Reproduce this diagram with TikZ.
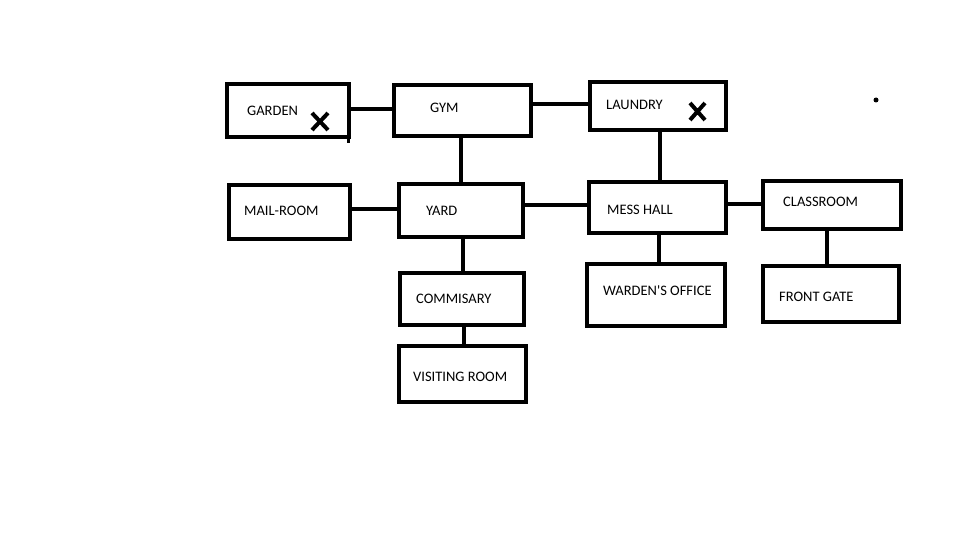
\documentclass[tikz,border=0pt]{standalone}
\usepackage{fontspec}
\setmainfont{Carlito}
\begin{document}
\begin{tikzpicture}[x=1pt,y=-1pt,
  room/.style={draw=black,line width=4pt,rectangle,inner sep=0pt,minimum width=#1},
  lbl/.style={anchor=west,inner sep=0pt,font=\fontsize{14.5}{16}\selectfont},
  link/.style={line width=4pt,draw=black},
  cross/.style={line width=4pt,draw=black}]
\useasboundingbox[fill=white] (0,0) rectangle (960,540);
% boxes
\node[room=122pt,minimum height=53pt] (garden) at (288,110.5) {};
\node[room=137pt,minimum height=51pt] (gym) at (462.5,110.5) {};
\node[room=121pt,minimum height=54pt] (mail) at (289.5,212) {};
\node[room=124pt,minimum height=53pt] (yard) at (461,210.5) {};
\node[room=136pt,minimum height=48pt] (laundry) at (658,106) {};
\node[room=137pt,minimum height=51pt] (mess) at (657.5,207.5) {};
\node[room=138pt,minimum height=48pt] (classroom) at (832,205) {};
\node[room=138pt,minimum height=62pt] (warden) at (656,295) {};
\node[room=136pt,minimum height=56pt] (gate) at (831,294) {};
\node[room=124pt,minimum height=52pt] (comm) at (462,299) {};
\node[room=127pt,minimum height=56pt] (visit) at (462.5,374) {};
% labels
\node[lbl] (tgarden) at (247,111) {GARDEN};
\node[lbl] (tgym) at (430,108) {GYM};
\node[lbl] (tmail) at (244,211) {MAIL-ROOM};
\node[lbl] (tyard) at (426,211) {YARD};
\node[lbl] (tlaundry) at (606,105) {LAUNDRY};
\node[lbl] (tmess) at (607,210) {MESS HALL};
\node[lbl] (tclass) at (783,202) {CLASSROOM};
\node[lbl] (twarden) at (603,291) {WARDEN\textquotesingle S OFFICE};
\node[lbl] (tgate) at (779,297) {FRONT GATE};
\node[lbl] (tcomm) at (416,299) {COMMISARY};
\node[lbl] (tvisit) at (413,377) {VISITING ROOM};
% connectors
\draw[link] ([yshift=1.5pt]garden.east) -- ([yshift=1.5pt]garden.east -| gym.west);
\draw[link] ([yshift=6.5pt]gym.east) -- ([yshift=6.5pt]gym.east -| laundry.west);
\draw[link] (gym.south -| yard.north) -- (yard.north);
\draw[link] ([yshift=3pt]mail.east) -- ([yshift=3pt]mail.east -| yard.west);
\draw[link] ([yshift=5.5pt]yard.east) -- ([yshift=5.5pt]yard.east -| mess.west);
\draw[link] ([xshift=1.5pt]laundry.south) -- ([xshift=1.5pt]laundry.south |- mess.north);
\draw[link] ([yshift=3.5pt]mess.east) -- ([yshift=3.5pt]mess.east -| classroom.west);
\draw[link] ([xshift=1.5pt]mess.south) -- ([xshift=1.5pt]mess.south |- warden.north);
\draw[link] ([xshift=-5pt]classroom.south) -- ([xshift=-5pt]classroom.south |- gate.north);
\draw[link] ([xshift=1.5pt]yard.south) -- ([xshift=1.5pt]yard.south |- comm.north);
\draw[link] ([xshift=2pt]comm.south) -- ([xshift=2pt]comm.south |- visit.north);
% stray stroke below garden's right edge
\draw[line width=3pt] (348,137) -- (348,143);
% crosses
\draw[cross] (312,113) -- (328,130) (328,113) -- (312,130);
\draw[cross] (690,103) -- (705,120) (705,103) -- (690,120);
% dot
\fill (876,100) circle (2.5pt);
\end{tikzpicture}
\end{document}
